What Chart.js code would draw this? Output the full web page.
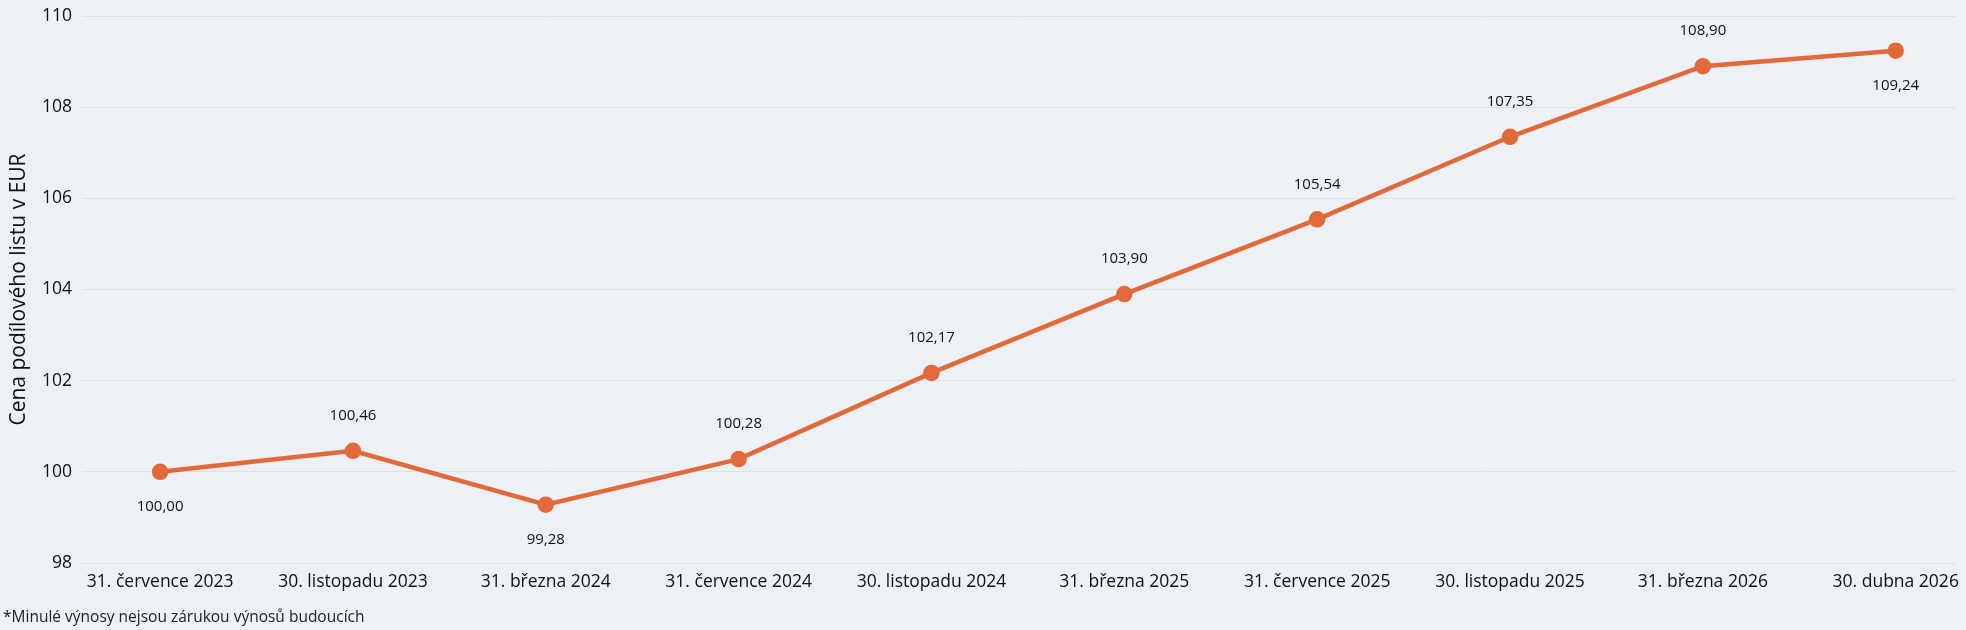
<!doctype html>
<html lang="cs">

<head>
    <meta charset="utf-8">
    <title>Cena podílového listu</title>
    <style>
        html, body { margin: 0; padding: 0; background: #edf0f4; }
        #wrap { position: relative; width: 1966px; height: 630px; }
        #note {
            position: absolute; left: 3px; top: 605px;
            font: 15.5px "Open Sans", sans-serif; color: #222;
        }
    </style>
</head>

<body>
    <div id="wrap">
        <canvas id="myChart" width="1966" height="630"></canvas>
        <div id="note">*Minulé výnosy nejsou zárukou výnosů budoucích</div>
    </div>

    <script src="https://cdn.jsdelivr.net/npm/chart.js@4.3.0/dist/chart.umd.min.js"></script>
    <script>
        const dates = [
            "31. července 2023", "30. listopadu 2023", "31. března 2024", "31. července 2024",
            "30. listopadu 2024", "31. března 2025", "31. července 2025", "30. listopadu 2025",
            "31. března 2026", "30. dubna 2026"
        ];
        const prices = [100.00, 100.46, 99.28, 100.28, 102.17, 103.90, 105.54, 107.35, 108.90, 109.24];

        // which value labels sit under the point instead of over it
        const labelBelow = [0, 2, 9];

        const valueLabels = {
            id: 'valueLabels',
            afterDatasetsDraw(chart) {
                const ctx = chart.ctx;
                const meta = chart.getDatasetMeta(0);
                ctx.save();
                ctx.font = '15px "Open Sans", sans-serif';
                ctx.fillStyle = '#111';
                ctx.textAlign = 'center';
                ctx.textBaseline = 'middle';
                meta.data.forEach((pt, i) => {
                    const dy = labelBelow.includes(i) ? 35 : -35;
                    ctx.fillText(prices[i].toFixed(2).replace('.', ','), pt.x, pt.y + dy);
                });
                ctx.restore();
            }
        };

        const config = {
            type: 'line',
            data: {
                datasets: [{
                    data: prices.map((v, i) => ({ x: i, y: v })),
                    borderColor: '#e2693a',
                    backgroundColor: '#e2693a',
                    borderWidth: 4.5,
                    pointRadius: 6,
                    fill: false,
                    tension: 0
                }]
            },
            options: {
                responsive: false,
                animation: false,
                layout: { padding: { left: 6, right: 4, top: 16, bottom: 36 } },
                plugins: {
                    legend: { display: false },
                    tooltip: { enabled: false }
                },
                scales: {
                    x: {
                        type: 'linear',
                        min: -0.405,
                        max: 9.31,
                        afterBuildTicks: axis => { axis.ticks = dates.map((d, i) => ({ value: i })); },
                        ticks: {
                            callback: v => dates[v],
                            color: '#111',
                            font: { family: 'Open Sans', size: 17.5 },
                            maxRotation: 0,
                            padding: 1
                        },
                        grid: { display: false },
                        border: { display: false }
                    },
                    y: {
                        min: 98,
                        max: 110,
                        afterFit: axis => {
                            axis.width = 76;
                            axis.paddingTop = 0;
                            axis.paddingBottom = 0;
                        },
                        ticks: {
                            stepSize: 2,
                            color: '#111',
                            font: { family: 'Open Sans', size: 17.5 },
                            padding: 10
                        },
                        grid: { color: '#dde1e7', lineWidth: 1, drawTicks: false },
                        border: { display: false },
                        title: {
                            display: true,
                            text: 'Cena podílového listu v EUR',
                            color: '#111',
                            font: { family: 'Open Sans', size: 21 },
                            padding: 0
                        }
                    }
                }
            },
            plugins: [valueLabels]
        };

        new Chart(document.getElementById('myChart'), config);
    </script>
</body>

</html>
